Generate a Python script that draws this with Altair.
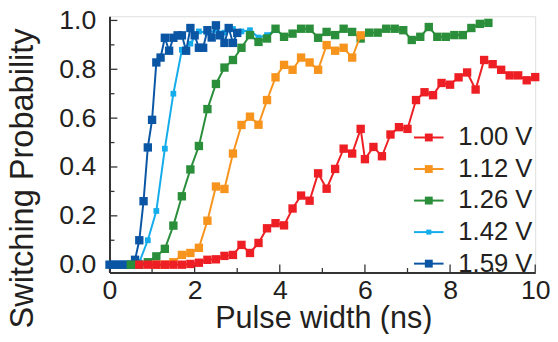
import altair as alt
import pandas as pd

# ---------------- data ----------------
series_names = ["1.00 V", "1.12 V", "1.26 V", "1.42 V", "1.59 V"]
series_colors = ["#ED1F24", "#F7941D", "#2A8E3B", "#14ACEB", "#0A56A5"]

x_100 = [0.7, 0.9, 1.1, 1.3, 1.5, 1.7, 1.9, 2.1, 2.3, 2.5, 2.7, 2.9, 3.1, 3.3, 3.5, 3.7, 3.9,
         4.1, 4.3, 4.5, 4.7, 4.9, 5.1, 5.3, 5.5, 5.7, 5.9,
         6.0, 6.2, 6.4, 6.6, 6.8, 7.0, 7.2, 7.4, 7.6, 7.8, 8.0, 8.2, 8.4, 8.6, 8.8, 9.0,
         9.2, 9.4, 9.6, 9.8, 10.0]
y_100 = [0.0, 0.0, 0.0, 0.0, 0.0, 0.0, 0.003, 0.008, 0.02, 0.022, 0.036, 0.04, 0.081, 0.048,
         0.089, 0.149, 0.17, 0.161, 0.23, 0.283, 0.262, 0.374, 0.311, 0.392, 0.475, 0.455, 0.556,
         0.432, 0.482, 0.444, 0.533, 0.563, 0.556, 0.674, 0.706, 0.694, 0.744, 0.737, 0.767,
         0.787, 0.717, 0.838, 0.821, 0.798, 0.775, 0.775, 0.755, 0.768]

x_112 = [1.1, 1.3, 1.5, 1.7, 1.9, 2.1, 2.3, 2.5, 2.7, 2.9, 3.1, 3.3, 3.5, 3.7, 3.9, 4.1, 4.3,
         4.5, 4.7, 4.9, 5.1, 5.3, 5.5, 5.7, 5.9]
y_112 = [0.0, 0.0, 0.01, 0.04, 0.048, 0.069, 0.18, 0.32, 0.31, 0.455, 0.572, 0.606, 0.573,
         0.674, 0.767, 0.818, 0.798, 0.848, 0.828, 0.798, 0.899, 0.876, 0.888, 0.848, 0.939]

x_126 = [0.5, 0.7, 0.9, 1.1, 1.3, 1.5, 1.7, 1.9, 2.1, 2.3, 2.5, 2.7, 2.9, 3.1, 3.3, 3.5, 3.7,
         3.9, 4.1, 4.3, 4.5, 4.7, 4.9, 5.1, 5.3, 5.5, 5.7, 5.9, 6.1, 6.3, 6.5, 6.7, 6.9, 7.1,
         7.3, 7.5, 7.7, 7.9, 8.1, 8.3, 8.5, 8.7, 8.9]
y_126 = [0.0, 0.0, 0.01, 0.034, 0.065, 0.16, 0.28, 0.39, 0.486, 0.637, 0.74, 0.807, 0.838,
         0.888, 0.94, 0.912, 0.926, 0.966, 0.933, 0.946, 0.966, 0.966, 0.929, 0.953, 0.94,
         0.966, 0.953, 0.926, 0.95, 0.95, 0.966, 0.966, 0.96, 0.92, 0.933, 0.973, 0.933,
         0.933, 0.94, 0.94, 0.969, 0.986, 0.99]

x_142 = [0.1, 0.3, 0.5, 0.7, 0.9, 1.1, 1.3, 1.5, 1.7, 1.9, 2.1, 2.3, 2.5, 2.7, 2.9, 3.1, 3.3,
         3.5, 3.7, 3.9]
y_142 = [0.0, 0.0, 0.0, 0.01, 0.10, 0.22, 0.475, 0.70, 0.88, 0.905, 0.955, 0.95, 0.96, 0.95,
         0.965, 0.955, 0.96, 0.93, 0.94, 0.96]

x_159 = [0.0, 0.1, 0.2, 0.3, 0.4, 0.5, 0.6, 0.7, 0.8, 0.9, 1.0, 1.1, 1.2, 1.3, 1.4, 1.5, 1.6,
         1.7, 1.8, 1.9, 2.0, 2.1, 2.2, 2.3, 2.4, 2.5, 2.6, 2.7, 2.8, 2.9, 3.0]
y_159 = [0.0, 0.0, 0.0, 0.0, 0.0, 0.0, 0.02, 0.10, 0.26, 0.48, 0.593, 0.828, 0.848, 0.929,
         0.876, 0.929, 0.939, 0.939, 0.876, 0.969, 0.939, 0.888, 0.888, 0.96, 0.93, 0.98,
         0.939, 0.908, 0.969, 0.908, 0.949]

x_ticks_major = [0, 2, 4, 6, 8, 10]
x_ticks_minor = [1, 3, 5, 7, 9]
y_ticks_major = [0.0, 0.2, 0.4, 0.6, 0.8, 1.0]
y_ticks_minor = [0.1, 0.3, 0.5, 0.7, 0.9]

# ---------------- styling ----------------
FONT = "Liberation Sans"
INK = "#231F20"
FRAME = "#333333"
W, H = 432, 260

xs = {"1.00 V": x_100, "1.12 V": x_112, "1.26 V": x_126, "1.42 V": x_142, "1.59 V": x_159}
ys = {"1.00 V": y_100, "1.12 V": y_112, "1.26 V": y_126, "1.42 V": y_142, "1.59 V": y_159}

color_scale = alt.Scale(domain=series_names, range=series_colors)
x_scale = alt.Scale(domain=[0, 10], nice=False, zero=False)
y_scale = alt.Scale(domain=[-0.032, 1.017], nice=False, zero=False)

x_axis = alt.Axis(values=x_ticks_major, ticks=False, grid=False, labelFontSize=27,
                  labelFont=FONT, labelColor=INK, labelPadding=5, labelFlush=False,
                  domainColor=FRAME, domainWidth=2, title="Pulse width (ns)",
                  titleFont=FONT, titleFontSize=31, titleFontWeight="normal", titleColor=INK,
                  titleX=217, titleY=56, titleBaseline="alphabetic", titleAlign="center",
                  labelOverlap=False)
y_axis = alt.Axis(values=y_ticks_major, format=".1f", ticks=False, grid=False,
                  labelFontSize=27, labelFont=FONT, labelColor=INK, labelPadding=14,
                  domainColor=FRAME, domainWidth=2, title="Switching Probability",
                  titleFont=FONT, titleFontSize=33, titleFontWeight="normal", titleColor=INK,
                  titleAngle=270, titleX=-78, titleY=164, titleBaseline="alphabetic",
                  titleAlign="center", labelOverlap=False, labelFlush=False)

X = alt.X("x:Q", scale=x_scale, axis=x_axis)
Y = alt.Y("y:Q", scale=y_scale, axis=y_axis)

layers = []
for name in ["1.42 V", "1.59 V", "1.26 V", "1.12 V", "1.00 V"]:
    df = pd.DataFrame({"x": xs[name], "y": ys[name], "series": name})
    base = alt.Chart(df).encode(
        x=X, y=Y,
        color=alt.Color("series:N", scale=color_scale, legend=None),
    )
    sq = 34 if name == "1.42 V" else 72
    layers.append(base.mark_line(strokeWidth=2))
    layers.append(base.mark_square(size=sq, opacity=1))

# inward tick marks
xt_major = alt.Chart(pd.DataFrame({"x": x_ticks_major})).mark_rule(
    color=FRAME, strokeWidth=1.3).encode(x=X, y=alt.value(H), y2=alt.value(H - 8))
xt_minor = alt.Chart(pd.DataFrame({"x": x_ticks_minor})).mark_rule(
    color=FRAME, strokeWidth=1.3).encode(x=X, y=alt.value(H), y2=alt.value(H - 4.5))
yt_major = alt.Chart(pd.DataFrame({"y": y_ticks_major})).mark_rule(
    color=FRAME, strokeWidth=1.3).encode(y=Y, x=alt.value(0), x2=alt.value(8))
yt_minor = alt.Chart(pd.DataFrame({"y": y_ticks_minor})).mark_rule(
    color=FRAME, strokeWidth=1.3).encode(y=Y, x=alt.value(0), x2=alt.value(5))

main = alt.layer(xt_major, xt_minor, yt_major, yt_minor, *layers)

# legend (bottom-right, inside the plot)
leg_df = pd.DataFrame({"series": series_names, "row": list(range(len(series_names)))})
LY = alt.Y("row:Q", scale=alt.Scale(domain=[0, 4], range=[123, 251]), axis=None)
LC = alt.Color("series:N", scale=color_scale, legend=None)
leg_line = alt.Chart(leg_df).mark_rule(strokeWidth=2).encode(
    y=LY, x=alt.value(309), x2=alt.value(339), color=LC)
leg_sq = alt.Chart(leg_df).mark_square(opacity=1).encode(
    y=LY, x=alt.value(324), color=LC,
    size=alt.condition(alt.datum.series == "1.42 V", alt.value(26), alt.value(64)))
leg_txt = alt.Chart(leg_df).mark_text(
    align="left", baseline="middle", font=FONT, fontSize=26, color=INK).encode(
    y=LY, x=alt.value(354), text="series:N")
legend = alt.layer(leg_line, leg_sq, leg_txt)

chart = alt.layer(main, legend).resolve_scale(y="independent").properties(
    width=W, height=H,
    autosize=alt.AutoSizeParams(type="none"),
    padding={"left": 103, "top": 6, "right": 15, "bottom": 60},
).configure_view(stroke=FRAME, strokeWidth=1.5).configure(background="white")

chart.save("out.html", embed_options={"renderer": "svg", "actions": False})
